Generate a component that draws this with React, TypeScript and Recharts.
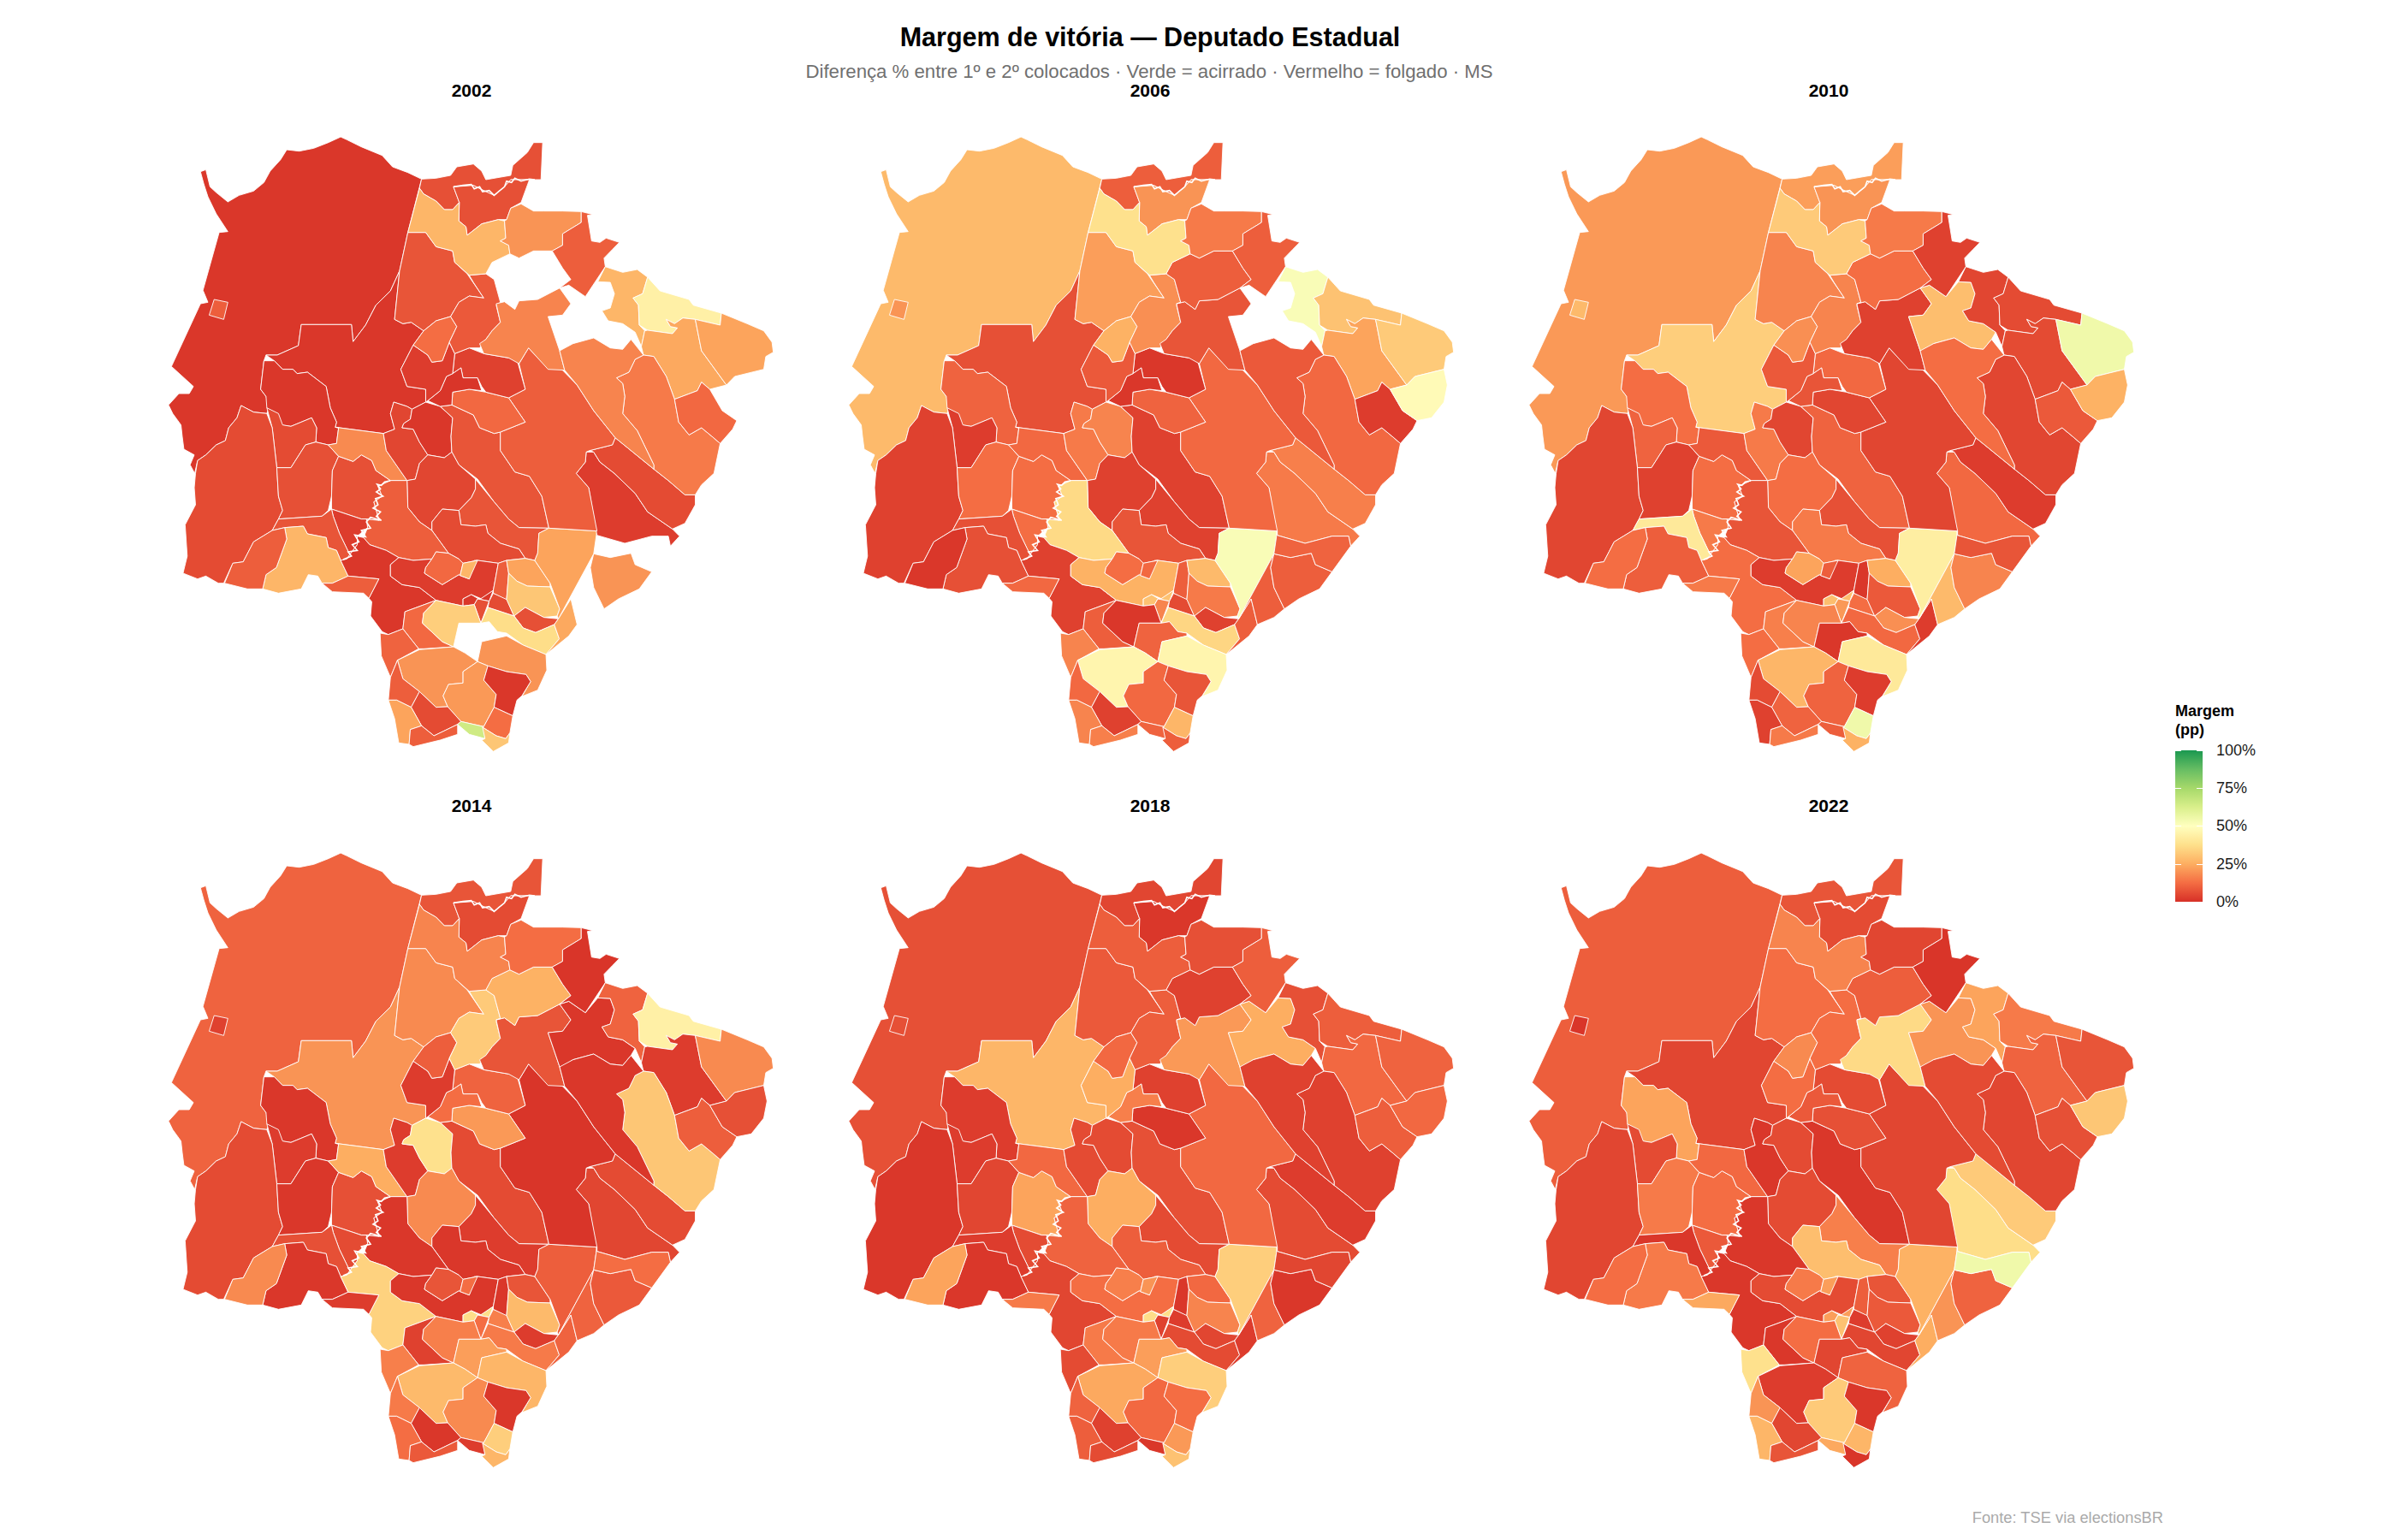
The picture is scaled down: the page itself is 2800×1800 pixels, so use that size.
import { ScatterChart, Scatter, XAxis, YAxis } from 'recharts';

const FONT = '"Liberation Sans", Arial, sans-serif';

// Contornos dos municípios, em unidades de grade do mapa
const regionOutlines: number[][][] = [
  [[645,238],[612,215],[575,195],[550,155],[500,125],[465,100],[450,90],[420,110],[385,130],[350,140],[320,135],[305,170],[280,210],[265,250],[240,280],[205,295],[178,318],[150,285],[135,265],[125,205],[112,212],[120,255],[130,300],[150,360],[178,422],[157,425],[118,628],[130,670],[112,675],[42,895],[95,965],[85,990],[60,990],[35,1030],[45,1060],[65,1100],[68,1140],[72,1185],[97,1205],[87,1240],[98,1270],[105,1225],[125,1205],[150,1170],[172,1155],[180,1110],[200,1075],[210,1032],[240,1055],[272,1060],[278,1035],[270,1000],[257,975],[265,875],[270,855],[297,855],[348,822],[355,748],[476,748],[480,808],[510,750],[535,680],[570,630],[592,560],[612,425]],
  [[145,660],[178,670],[168,730],[133,715]],
  [[592,560],[570,630],[535,680],[510,750],[480,808],[476,748],[355,748],[348,822],[297,855],[270,855],[290,875],[310,905],[335,905],[345,920],[370,915],[415,965],[425,1040],[440,1090],[437,1108],[553,1130],[580,1115],[570,1060],[578,1020],[610,1035],[622,1045],[655,1020],[655,975],[610,965],[595,905],[625,820],[650,770],[620,740],[600,745],[580,730]],
  [[612,425],[655,425],[680,475],[720,490],[725,530],[755,570],[795,655],[760,648],[735,670],[715,720],[680,735],[650,770],[620,740],[600,745],[580,730],[592,560]],
  [[265,875],[257,975],[270,1000],[272,1040],[305,1100],[330,1105],[380,1075],[392,1110],[390,1160],[420,1170],[440,1165],[445,1110],[437,1108],[440,1090],[425,1040],[415,965],[370,915],[345,920],[335,905],[310,905],[290,875]],
  [[272,1040],[300,1060],[310,1100],[330,1105],[380,1075],[392,1110],[390,1160],[365,1170],[330,1250],[296,1250],[285,1110]],
  [[210,1032],[240,1055],[272,1060],[285,1110],[296,1250],[300,1350],[310,1400],[300,1430],[285,1470],[240,1510],[215,1580],[190,1585],[168,1655],[155,1655],[125,1630],[105,1640],[70,1620],[80,1560],[75,1450],[100,1380],[97,1320],[100,1270],[105,1225],[125,1205],[150,1170],[172,1155],[180,1110],[200,1075]],
  [[296,1250],[330,1250],[365,1170],[390,1160],[420,1170],[445,1210],[430,1260],[428,1350],[420,1400],[405,1420],[300,1430],[310,1400],[300,1350]],
  [[445,1210],[480,1228],[500,1205],[525,1225],[535,1260],[570,1295],[540,1315],[550,1350],[530,1370],[543,1435],[512,1430],[500,1430],[428,1395],[428,1350],[430,1260]],
  [[437,1108],[553,1130],[560,1190],[610,1295],[570,1295],[535,1260],[525,1225],[500,1205],[480,1228],[445,1210],[420,1170],[440,1165],[445,1110]],
  [[578,1020],[610,1035],[622,1045],[618,1080],[602,1095],[598,1110],[625,1115],[640,1160],[660,1205],[640,1235],[630,1290],[610,1295],[560,1190],[553,1130],[580,1115],[570,1060]],
  [[622,1045],[655,1020],[690,1035],[720,1075],[716,1140],[718,1195],[700,1215],[660,1205],[640,1160],[625,1115],[598,1110],[602,1095],[618,1080]],
  [[690,1035],[718,1030],[770,1065],[785,1110],[820,1130],[835,1125],[835,1190],[870,1265],[905,1280],[935,1350],[952,1462],[880,1460],[855,1430],[820,1370],[780,1290],[735,1240],[718,1195],[716,1140],[720,1075]],
  [[630,1290],[640,1235],[660,1205],[700,1215],[718,1195],[735,1240],[775,1290],[775,1325],[765,1355],[735,1400],[695,1395],[670,1440],[670,1470],[640,1440],[612,1390],[610,1295]],
  [[775,1290],[820,1370],[855,1430],[880,1460],[952,1462],[928,1480],[925,1550],[918,1575],[895,1568],[880,1535],[835,1515],[805,1480],[800,1450],[775,1455],[740,1450],[735,1400],[765,1355],[775,1325]],
  [[695,1395],[735,1400],[740,1450],[775,1455],[800,1450],[805,1480],[835,1515],[880,1535],[895,1568],[850,1575],[830,1585],[780,1575],[745,1585],[735,1570],[710,1550],[670,1470],[670,1440]],
  [[570,1295],[610,1295],[612,1390],[640,1440],[670,1470],[710,1550],[680,1545],[670,1570],[625,1575],[590,1565],[560,1540],[520,1520],[505,1495],[515,1460],[512,1430],[543,1435],[530,1370],[550,1350],[540,1315]],
  [[428,1395],[500,1430],[512,1430],[515,1460],[490,1490],[490,1520],[472,1555],[447,1480],[432,1420]],
  [[300,1430],[405,1420],[428,1395],[432,1420],[447,1480],[472,1555],[465,1570],[450,1575],[440,1540],[420,1530],[415,1495],[370,1482],[360,1455],[315,1460],[285,1470]],
  [[315,1460],[360,1455],[370,1482],[415,1495],[420,1530],[440,1540],[450,1575],[468,1630],[430,1655],[405,1655],[395,1630],[372,1625],[355,1675],[300,1690],[262,1675],[270,1625],[295,1600],[320,1500]],
  [[285,1470],[315,1460],[320,1500],[295,1600],[270,1625],[262,1675],[225,1675],[170,1655],[190,1585],[215,1580],[240,1510]],
  [[505,1495],[520,1520],[560,1540],[590,1565],[570,1590],[570,1630],[598,1660],[640,1670],[680,1715],[605,1755],[600,1815],[565,1835],[550,1825],[522,1770],[525,1720],[518,1708],[542,1640],[468,1630],[450,1575],[465,1570],[472,1555],[490,1520],[490,1490]],
  [[405,1655],[430,1655],[468,1630],[542,1640],[518,1708],[505,1690],[430,1685]],
  [[590,1565],[625,1575],[670,1570],[655,1600],[652,1620],[695,1660],[735,1625],[738,1628],[760,1640],[772,1575],[780,1575],[830,1585],[818,1680],[790,1710],[765,1695],[745,1710],[745,1735],[680,1715],[640,1670],[598,1660],[570,1630],[570,1590]],
  [[655,1600],[670,1570],[680,1545],[710,1550],[735,1570],[745,1585],[738,1628],[735,1625],[695,1660],[652,1620]],
  [[745,1585],[780,1575],[760,1640],[738,1628]],
  [[745,1710],[765,1695],[785,1712],[818,1680],[808,1718],[780,1710],[772,1730],[745,1735]],
  [[780,1710],[808,1718],[788,1795],[772,1730]],
  [[818,1690],[850,1710],[868,1770],[805,1740],[808,1718]],
  [[830,1585],[850,1575],[855,1620],[850,1712],[818,1690],[818,1680]],
  [[850,1575],[895,1568],[918,1575],[955,1655],[955,1668],[900,1665],[875,1648],[855,1620]],
  [[875,1648],[900,1665],[955,1668],[978,1745],[972,1770],[940,1775],[895,1740],[868,1770],[850,1712],[855,1620]],
  [[928,1480],[952,1462],[990,1465],[1068,1472],[1060,1552],[975,1780],[972,1770],[978,1745],[955,1655],[918,1575],[925,1550]],
  [[868,1770],[895,1740],[940,1775],[975,1780],[965,1800],[920,1828],[890,1812]],
  [[805,1740],[868,1770],[890,1812],[920,1828],[965,1800],[977,1850],[945,1905],[890,1872],[850,1830],[828,1825],[808,1790],[788,1795]],
  [[1005,1710],[1020,1800],[1000,1840],[945,1905],[977,1850],[965,1800],[975,1780]],
  [[1060,1552],[1052,1600],[1060,1670],[1085,1745],[1060,1775],[1020,1800],[1005,1710],[975,1780]],
  [[1060,1552],[1100,1565],[1150,1550],[1160,1590],[1200,1615],[1170,1675],[1120,1710],[1085,1745],[1060,1670],[1052,1600]],
  [[1042,1195],[1060,1195],[1075,1230],[1110,1270],[1160,1340],[1190,1405],[1250,1465],[1267,1490],[1245,1525],[1240,1490],[1200,1490],[1135,1515],[1068,1487],[1048,1320],[1018,1270],[1040,1230]],
  [[1112,1145],[1205,1255],[1240,1295],[1280,1345],[1305,1345],[1305,1380],[1280,1445],[1250,1465],[1190,1405],[1160,1340],[1110,1270],[1075,1230],[1060,1195],[1050,1190],[1105,1170]],
  [[1068,1487],[1135,1515],[1200,1490],[1240,1490],[1245,1525],[1200,1615],[1160,1590],[1150,1550],[1100,1565],[1060,1552],[1068,1472]],
  [[903,830],[935,880],[985,908],[1020,960],[1060,1050],[1112,1145],[1105,1170],[1050,1190],[1042,1195],[1040,1230],[1018,1270],[1048,1320],[1068,1472],[990,1465],[952,1462],[935,1350],[905,1280],[870,1265],[835,1190],[835,1125],[895,1090],[855,1005],[895,975],[880,885]],
  [[720,985],[760,975],[800,985],[855,1005],[895,1090],[835,1125],[820,1130],[785,1110],[770,1065],[718,1030]],
  [[725,850],[760,830],[795,850],[875,870],[895,975],[855,1005],[800,985],[790,965],[780,935],[745,935],[740,900],[720,920]],
  [[740,900],[745,935],[780,935],[790,980],[760,975],[720,985],[718,1030],[690,1035],[660,1015],[690,980],[705,930],[720,920]],
  [[625,820],[660,855],[670,880],[695,875],[712,810],[725,850],[720,920],[705,930],[690,980],[660,1015],[655,1020],[655,975],[610,965],[595,905]],
  [[650,770],[680,735],[715,720],[730,755],[712,810],[695,875],[670,880],[660,855],[625,820]],
  [[715,720],[735,670],[760,648],[795,655],[770,600],[760,575],[800,570],[820,590],[835,670],[825,680],[835,740],[815,770],[800,800],[785,830],[760,830],[725,850],[712,810],[730,755]],
  [[825,675],[845,668],[870,695],[880,665],[925,660],[978,620],[1005,675],[985,715],[950,720],[978,840],[990,908],[950,905],[903,830],[880,885],[855,865],[795,850],[785,815],[800,800],[815,770],[835,740]],
  [[800,570],[815,530],[858,500],[880,515],[915,490],[960,490],[985,550],[1005,590],[978,620],[925,660],[880,665],[870,695],[845,668],[825,675],[835,670],[820,590]],
  [[978,620],[1000,610],[1040,650],[1070,598],[1100,600],[1110,640],[1100,690],[1080,700],[1095,735],[1130,745],[1160,775],[1150,800],[1130,835],[1100,830],[1060,795],[1010,815],[985,840],[978,840],[950,720],[985,715],[1005,675]],
  [[645,238],[680,235],[715,225],[730,195],[770,185],[790,210],[800,240],[860,225],[865,190],[900,145],[915,110],[937,110],[933,240],[905,240],[860,240],[845,265],[820,295],[790,275],[770,260],[722,265],[736,320],[720,345],[700,345],[680,315],[650,290],[640,270]],
  [[722,265],[770,260],[790,275],[820,295],[845,265],[860,240],[905,240],[885,320],[860,340],[850,380],[830,380],[790,395],[755,435],[752,405],[735,385],[736,320]],
  [[640,270],[650,290],[680,315],[700,345],[720,345],[736,320],[735,385],[752,405],[755,435],[790,395],[830,380],[845,385],[848,445],[835,455],[855,470],[858,500],[815,530],[800,570],[760,575],[725,530],[720,490],[680,475],[655,425],[612,425]],
  [[885,325],[915,350],[940,350],[985,350],[1030,352],[1030,390],[985,430],[985,470],[960,490],[915,490],[880,515],[858,500],[855,470],[835,455],[848,445],[845,385],[850,380],[860,340]],
  [[1030,352],[1058,362],[1045,365],[1055,455],[1075,460],[1090,445],[1122,460],[1105,485],[1085,515],[1088,545],[1040,650],[1000,610],[978,620],[1005,590],[985,550],[960,490],[985,470],[985,430],[1030,390]],
  [[1088,545],[1130,565],[1165,555],[1190,582],[1178,640],[1155,655],[1168,680],[1170,750],[1183,770],[1175,825],[1160,775],[1130,745],[1095,735],[1080,700],[1100,690],[1110,640],[1100,600],[1070,598]],
  [[1190,582],[1220,630],[1290,660],[1300,680],[1368,708],[1365,750],[1305,730],[1275,725],[1255,745],[1235,730],[1245,755],[1262,760],[1250,780],[1190,768],[1170,750],[1168,680],[1155,655],[1178,640]],
  [[1305,730],[1320,840],[1380,960],[1340,975],[1320,950],[1310,980],[1255,1010],[1235,930],[1205,860],[1180,855],[1175,825],[1183,770],[1190,768],[1250,780],[1262,760],[1245,755],[1235,730],[1255,745],[1275,725]],
  [[1368,708],[1430,745],[1470,770],[1490,810],[1493,845],[1475,860],[1470,905],[1400,930],[1380,960],[1320,840],[1305,730],[1365,750]],
  [[1160,870],[1180,855],[1205,860],[1235,930],[1255,1010],[1265,1090],[1290,1135],[1320,1110],[1345,1140],[1365,1165],[1350,1270],[1320,1310],[1305,1345],[1280,1345],[1240,1295],[1205,1255],[1205,1240],[1165,1120],[1130,1060],[1135,1000],[1130,955],[1115,935],[1145,915]],
  [[978,840],[1010,815],[1060,795],[1100,830],[1130,835],[1150,800],[1180,855],[1160,870],[1145,915],[1115,935],[1130,955],[1135,1000],[1130,1060],[1165,1120],[1205,1240],[1205,1255],[1112,1145],[1060,1050],[1020,960],[990,908]],
  [[1255,1010],[1310,980],[1320,950],[1340,975],[1370,1050],[1405,1085],[1395,1115],[1365,1165],[1345,1140],[1320,1110],[1290,1135],[1265,1090]],
  [[1340,975],[1380,960],[1400,930],[1470,905],[1478,960],[1470,1020],[1440,1075],[1405,1085],[1370,1050]],
  [[605,1755],[680,1715],[650,1760],[647,1795],[695,1860],[722,1878],[650,1885],[638,1885],[600,1815]],
  [[680,1715],[745,1735],[772,1730],[788,1795],[735,1795],[722,1878],[695,1860],[647,1795],[650,1760]],
  [[735,1795],[788,1795],[808,1790],[828,1825],[850,1830],[850,1840],[790,1860],[780,1930],[750,1900],[722,1878]],
  [[790,1860],[850,1840],[890,1872],[945,1905],[947,1960],[925,2030],[887,2052],[908,2000],[897,1975],[850,1965],[805,1945],[780,1930]],
  [[545,1830],[565,1835],[600,1815],[638,1885],[587,1925],[570,1985],[548,1910]],
  [[587,1925],[640,1888],[722,1878],[750,1900],[780,1930],[745,1965],[745,2005],[710,2010],[697,2050],[708,2088],[680,2090],[640,2035],[600,1990]],
  [[745,1965],[780,1930],[805,1945],[795,1995],[825,2045],[820,2090],[795,2158],[740,2140],[708,2088],[697,2050],[710,2010],[745,2005]],
  [[805,1945],[850,1965],[897,1975],[908,2000],[887,2050],[875,2065],[865,2120],[820,2090],[825,2045],[795,1995]],
  [[570,1985],[587,1925],[600,1990],[640,2035],[620,2090],[585,2065],[565,2065]],
  [[640,2035],[680,2090],[708,2088],[740,2140],[732,2150],[675,2190],[645,2155],[620,2090]],
  [[565,2065],[585,2065],[620,2090],[645,2155],[618,2168],[615,2220],[590,2215],[580,2130]],
  [[618,2168],[645,2155],[675,2190],[732,2150],[732,2185],[690,2205],[625,2228],[615,2220]],
  [[732,2150],[740,2140],[795,2158],[798,2200],[760,2185]],
  [[795,2158],[820,2090],[865,2120],[858,2180],[848,2200],[825,2190],[792,2160]],
  [[792,2160],[825,2190],[848,2200],[858,2180],[855,2215],[818,2245],[790,2205],[798,2200]],
];

// Margem (pp) por município, na mesma ordem dos contornos; null = sem dado
const margem2002 = [1.5,9.5,1.5,7.5,1.5,5.5,5.5,6.5,6.5,18,4.5,1.5,7.5,4.5,7.5,5.5,9.5,2.5,7.5,27,9.5,1.5,9.5,2.5,11.5,27,1.5,6.5,5.5,9.5,23,31,23,6.5,37,24,null,20,2.5,5.5,null,9.5,11.5,3.5,1,2.5,12.5,8.5,17,null,null,6.5,6.5,27,20,9.5,27,44,24,23,15,17,11.5,null,11.5,33,null,20,10.5,20,21,1.5,9.5,5.5,23,9.5,65,12.5,31];
const margem2006 = [28,20,6.5,22,10.5,2.5,3.5,12.5,12.5,11.5,15,17,3.5,3.5,3.5,7.5,36,12.5,6.5,6.5,1.5,3.5,11.5,26,12.5,11.5,30,17,5.5,9.5,28,15,52,3.5,35,9.5,9.5,9.5,15,16,10.5,11.5,10.5,1.5,1.5,8.5,26,19,7.5,9.5,null,9.5,20,38,15,9.5,52,30,23,32,11.5,8.5,2.5,48,9.5,1.5,10.5,46,17,46,11.5,7.5,11.5,3.5,17,16,10.5,27,9.5];
const margem2010 = [21,28,33,17,12.5,10.5,4.5,3.5,12.5,8.5,15,4.5,10.5,12.5,6.5,15,7.5,15,41,9.5,12.5,12.5,15,2.5,23,9.5,29,21,12.5,1.5,25,8.5,43,19,11.5,2.5,28,17,11.5,2.5,7.5,4.5,4.5,11.5,7.5,8.5,19,17,3.5,12.5,29,22,20,32,15,3.5,4.5,5.5,5.5,55,4.5,12.5,8.5,26,16,17,1.5,41,12.5,27,10.5,2.5,5.5,10.5,3.5,15,9.5,55,26];
const margem2014 = [10.5,3.5,20,18,1.5,2.5,5.5,1.5,6.5,25,2.5,38,5.5,18,2.5,1.5,1.5,5.5,6.5,1.5,18,34,2.5,1.5,7.5,12.5,37,12.5,16,1.5,7.5,28,9.5,2.5,15,10.5,10.5,8.5,4.5,5.5,12.5,1,21,10.5,12.5,2.5,9.5,32,7.5,26,1.5,7.5,5.5,17,12.5,1,10.5,44,2.5,18,31,1.5,9.5,6.5,3.5,16,22,27,16,28,18,1.5,15,1.5,12.5,8.5,2.5,33,27];
const margem2018 = [6.5,6.5,27,8.5,2.5,2.5,1.5,4.5,23,11.5,5.5,5.5,6.5,25,5.5,9.5,10.5,5.5,2.5,1.5,23,4.5,15,12.5,16,20,37,3.5,2.5,1.5,11.5,17,33,4.5,5.5,2.5,10.5,1.5,5.5,2.5,4.5,11.5,1.5,3.5,16,25,11.5,9.5,21,3.5,25,4.5,1.5,9.5,6.5,9.5,6.5,9.5,11.5,10.5,3.5,3.5,9.5,11.5,15,15,22,33,5.5,24,11.5,12.5,10.5,3.5,9.5,5.5,1.5,21,30];
const margem2022 = [9.5,1,4.5,12.5,23,5.5,4.5,15,12.5,11.5,1.5,5.5,1.5,5.5,16,29,1.5,8.5,1.5,15,12.5,1.5,24,5.5,15,22,22,30,2.5,9.5,7.5,8.5,26,3.5,4.5,25,20,10.5,37,32,55,4.5,6.5,5.5,8.5,12.5,18,12.5,36,9.5,20,7.5,5.5,17,4.5,1,23,15,10.5,7.5,4.5,5.5,6.5,31,1.5,12.5,4.5,10.5,38,2.5,32,1.5,20,4.5,27,7.5,24,27,1];

// Trecho recortado do rio, desenhado sobre os limites
const riverEdge = [[570,1295],[556,1300],[548,1312],[538,1308],[546,1325],[536,1335],[552,1350],[534,1358],[540,1380],[528,1392],[546,1405],[536,1420],[548,1435],[522,1424],[512,1440],[522,1462],[500,1470],[510,1492],[484,1486],[494,1510],[478,1520],[490,1540],[468,1545],[476,1560],[456,1572]];
const northEdge = [[722,265],[745,260],[765,257],[772,272],[785,265],[792,282],[808,278],[820,295],[832,280],[845,265],[850,245],[862,250],[870,235],[885,245],[905,238],[918,240]];

const years = ['2002', '2006', '2010', '2014', '2018', '2022'];
const yearValues = [margem2002, margem2006, margem2010, margem2014, margem2018, margem2022];

const legendTicks = ['100%', '75%', '50%', '25%', '0%'];
const colorStops = ['#d73027', '#f46d43', '#fdae61', '#fee08b', '#ffffbf', '#d9ef8b', '#a6d96a', '#66bd63', '#1a9850'];

const hex = (c: string) => [1, 3, 5].map((i) => parseInt(c.slice(i, i + 2), 16));

const colorFor = (v: number) => {
  const t = (Math.min(v, 100) / 100) * (colorStops.length - 1);
  const i = Math.min(Math.floor(t), colorStops.length - 2);
  const a = hex(colorStops[i]);
  const b = hex(colorStops[i + 1]);
  const rgb = a.map((x, k) => Math.round(x + (b[k] - x) * (t - i)));
  return `rgb(${rgb.join(',')})`;
};

const toPoints = (outline: number[][]) =>
  [...outline, outline[0]].map(([x, y]) => ({ x, y }));

const noDot = () => null;

const MapPanel = ({ values }: { values: (number | null)[] }) => (
  <ScatterChart width={760} height={760} margin={{ top: 0, right: 0, bottom: 0, left: 0 }}>
    <XAxis type="number" dataKey="x" domain={[0, 1568]} hide />
    <YAxis type="number" dataKey="y" domain={[0, 2280]} reversed hide />
    {regionOutlines.map((outline, i) => {
      const v = values[i];
      if (v === null) return null;
      return (
        <Scatter
          key={i}
          data={toPoints(outline)}
          isAnimationActive={false}
          shape={noDot}
          lineType="joint"
          line={{ fill: colorFor(v), stroke: '#ffffff', strokeWidth: 0.9 }}
        />
      );
    })}
    {[riverEdge, northEdge].map((edge, i) => (
      <Scatter
        key={`edge-${i}`}
        data={edge.map(([x, y]) => ({ x, y }))}
        isAnimationActive={false}
        shape={noDot}
        lineType="joint"
        line={{ fill: 'none', stroke: '#ffffff', strokeWidth: 1.6 }}
      />
    ))}
  </ScatterChart>
);

const text = (extra: React.CSSProperties): React.CSSProperties => ({
  position: 'absolute',
  fontFamily: FONT,
  whiteSpace: 'nowrap',
  lineHeight: 1,
  ...extra,
});

export default function App() {
  return (
    <div style={{ position: 'absolute', left: 0, top: 0, width: 2800, height: 1800, background: '#fff', overflow: 'hidden' }}>
      {years.map((year, i) => {
        const col = i % 3;
        const row = Math.floor(i / 3);
        return (
          <div key={year}>
            <div style={{ position: 'absolute', left: 180 + col * 795, top: 130 + row * 837 }}>
              <MapPanel values={yearValues[i]} />
            </div>
            <div
              style={text({
                left: 551 + col * 793,
                top: 105 + row * 836 - 10,
                transform: 'translateX(-50%)',
                fontSize: 21,
                fontWeight: 700,
                color: '#000',
              })}
            >
              {year}
            </div>
          </div>
        );
      })}

      <div style={text({ left: 1344, top: 28, transform: 'translateX(-50%)', fontSize: 30.5, fontWeight: 700, color: '#000' })}>
        Margem de vitória — Deputado Estadual
      </div>
      <div style={text({ left: 1343, top: 73, transform: 'translateX(-50%)', fontSize: 22.2, color: '#707070' })}>
        Diferença % entre 1º e 2º colocados · Verde = acirrado · Vermelho = folgado · MS
      </div>
      <div style={text({ right: 2800 - 2528, top: 1765, fontSize: 18.3, color: '#aaa' })}>Fonte: TSE via electionsBR</div>

      <div style={text({ left: 2542, top: 820, fontSize: 18, fontWeight: 700, lineHeight: '22px', color: '#000', whiteSpace: 'pre' })}>
        {'Margem\n(pp)'}
      </div>
      <div
        style={{
          position: 'absolute',
          left: 2542,
          top: 877,
          width: 32,
          height: 177,
          background: `linear-gradient(to top, ${colorStops.join(', ')})`,
        }}
      />
      {legendTicks.map((label, i) => (
        <div key={label}>
          {[2542, 2567].map((x) => (
            <div key={x} style={{ position: 'absolute', left: x, top: 877 + i * 44.2, width: 7, height: 1, background: '#fff' }} />
          ))}
          <div style={text({ left: 2590, top: 877 + i * 44.2 - 9, fontSize: 18, color: '#1a1a1a' })}>{label}</div>
        </div>
      ))}
    </div>
  );
}
